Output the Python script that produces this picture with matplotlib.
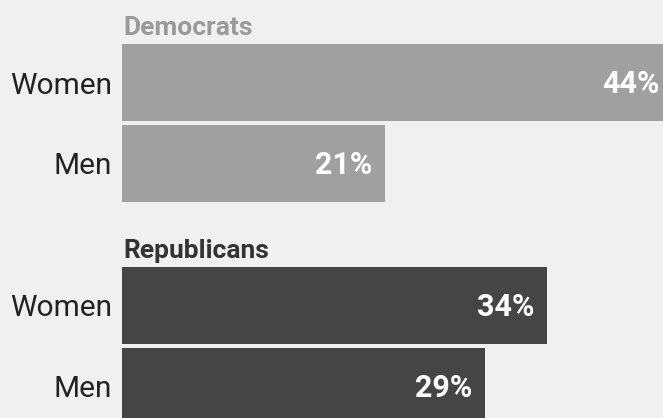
import matplotlib.pyplot as plt

# data
groups = ['Democrats', 'Republicans']
genders = ['Women', 'Men']
dem_values = [44, 21]
rep_values = [34, 29]

bg = '#f0f0f0'
dem_color = '#a0a0a0'
rep_color = '#454545'
title_colors = ['#9a9a9a', '#333333']

plt.rcParams['font.family'] = ['Roboto', 'DejaVu Sans']

fig = plt.figure(figsize=(6.63, 4.18), dpi=100, facecolor=bg)
ax = fig.add_axes([122 / 663, 0, 1 - 122 / 663, 1])
ax.set_facecolor(bg)

# row positions (in units of one row pitch)
pos = [[0, 1], [2.753, 3.753]]
values = [dem_values, rep_values]
colors = [dem_color, rep_color]

for g, name in enumerate(groups):
    bars = ax.barh(pos[g], values[g], height=0.95, color=colors[g])
    for bar, v in zip(bars, values[g]):
        ax.annotate(f'{v}%', (v, bar.get_y() + bar.get_height() / 2),
                    xytext=(-9, -1), textcoords='offset points',
                    ha='right', va='center', color='white',
                    fontsize=22, fontweight='bold', annotation_clip=False)
    ax.annotate(name, (0, pos[g][0] - 0.475), xytext=(1, 3),
                textcoords='offset points', ha='left', va='bottom',
                color=title_colors[g], fontsize=19, fontweight='bold')

ax.set_xlim(0, (663 - 122) / 12.5)
ax.set_ylim((418 - 82.5) / 81, -82.5 / 81)

ax.set_yticks(pos[0] + pos[1])
ax.set_yticklabels(genders + genders, fontsize=21.5, color='#222222')
ax.tick_params(axis='y', length=0, pad=7)
ax.set_xticks([])
for s in ax.spines.values():
    s.set_visible(False)

fig.savefig('out.png', dpi=100, facecolor=bg)
